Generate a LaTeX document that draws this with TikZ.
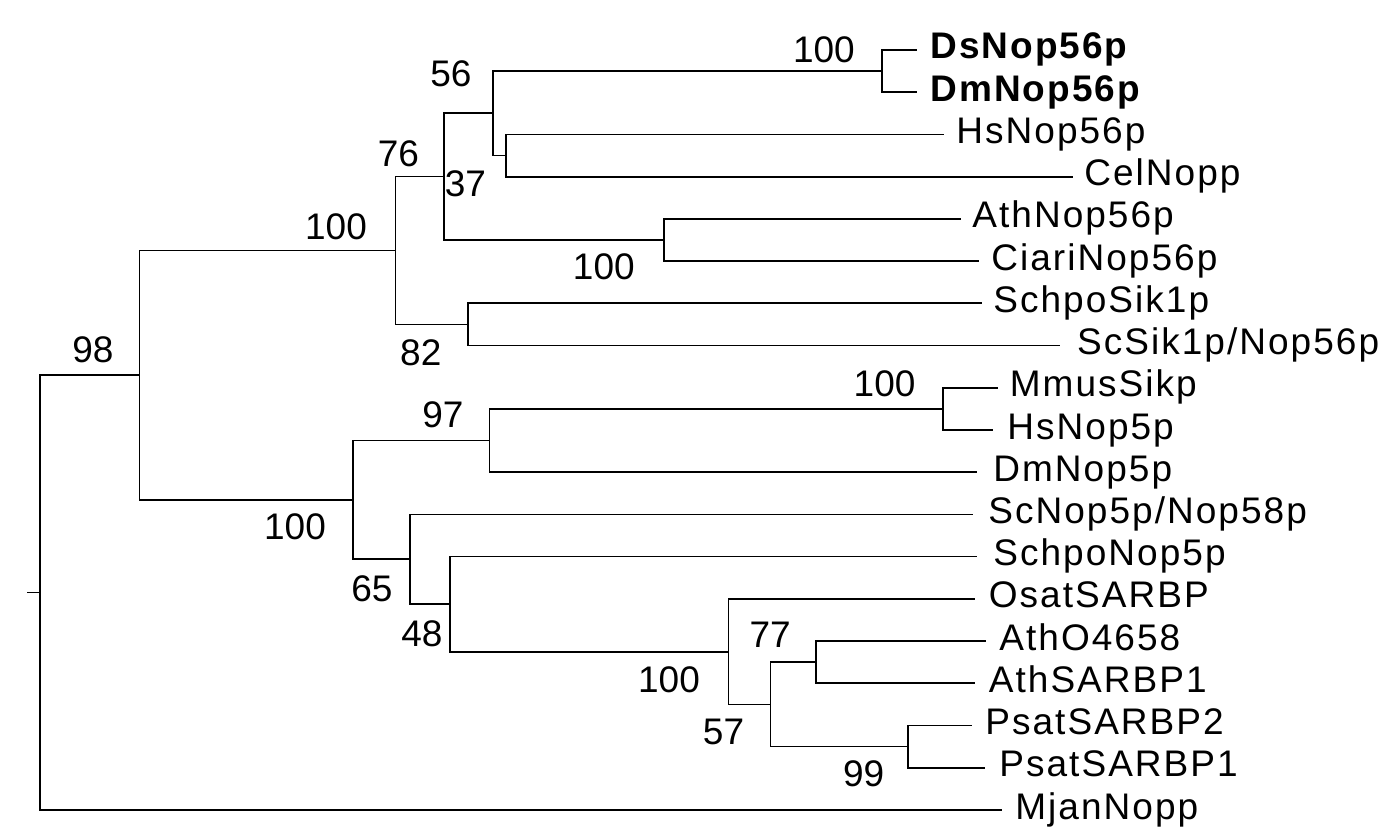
\documentclass[tikz,border=0pt]{standalone}
\usepackage{fontspec}
\setmainfont{Liberation Sans}
\newfontfamily\taxonfont{Liberation Sans}[LetterSpace=5.5]
\tikzset{
  branch/.style={line width=0.85pt},
  leaf/.style={anchor=base west, inner sep=0pt, font=\taxonfont\fontsize{18.5}{22}\selectfont},
  boot/.style={inner sep=0pt, font=\fontsize{18.5}{22}\selectfont},
}

\begin{document}
\begin{tikzpicture}[x=0.5pt, y=-0.5pt]
\useasboundingbox (0,0) rectangle (1382,840);

% inner nodes of the tree
\coordinate (R0) at (27,592.6);
\coordinate (N0) at (40,592.6);
\coordinate (N1) at (139.5,375.2);
\coordinate (N2) at (395.5,250.5);
\coordinate (N3) at (444.2,176.65);
\coordinate (N4) at (492.9,113.3);
\coordinate (N5) at (881.7,71.1);
\coordinate (N6) at (505.8,155.55);
\coordinate (N7) at (663.8,240);
\coordinate (N8) at (467.9,324.4);
\coordinate (N9) at (352.7,499.9);
\coordinate (N10) at (489.5,440.55);
\coordinate (N11) at (943.2,408.9);
\coordinate (N12) at (409.8,559.25);
\coordinate (N13) at (450,604.1);
\coordinate (N14) at (728.4,651.65);
\coordinate (N15) at (770.4,704.4);
\coordinate (N16) at (815.7,662.2);
\coordinate (N17) at (908.2,746.6);

% ends of the tips
\coordinate (L1) at (916.7,50);
\coordinate (L2) at (916.7,92.2);
\coordinate (L3) at (944,134.4);
\coordinate (L4) at (1072.5,176.7);
\coordinate (L5) at (960.5,218.9);
\coordinate (L6) at (979,261.1);
\coordinate (L7) at (981.5,303.3);
\coordinate (L8) at (1060,345.5);
\coordinate (L9) at (997.8,387.8);
\coordinate (L10) at (993,430);
\coordinate (L11) at (976.8,472.2);
\coordinate (L12) at (973,514.4);
\coordinate (L13) at (976.8,556.6);
\coordinate (L14) at (975.4,598.9);
\coordinate (L15) at (986,641.1);
\coordinate (L16) at (975.4,683.3);
\coordinate (L17) at (972,725.5);
\coordinate (L18) at (985.2,767.7);
\coordinate (L19) at (1002,810);

% tip names
\node[leaf, font=\taxonfont\bfseries\fontsize{18.5}{22}\selectfont] (T1) at (930,59) {DsNop56p};
\node[leaf, font=\taxonfont\bfseries\fontsize{18.5}{22}\selectfont] (T2) at (930,101.2) {DmNop56p};
\node[leaf] (T3) at (956,143.4) {HsNop56p};
\node[leaf] (T4) at (1084,185.7) {CelNopp};
\node[leaf] (T5) at (972,227.9) {AthNop56p};
\node[leaf] (T6) at (991,270.1) {CiariNop56p};
\node[leaf] (T7) at (993,312.3) {SchpoSik1p};
\node[leaf] (T8) at (1076.7,354.5) {ScSik1p/Nop56p};
\node[leaf] (T9) at (1009.5,396.8) {MmusSikp};
\node[leaf] (T10) at (1007,439) {HsNop5p};
\node[leaf] (T11) at (993,481.2) {DmNop5p};
\node[leaf] (T12) at (988,523.4) {ScNop5p/Nop58p};
\node[leaf] (T13) at (993,565.6) {SchpoNop5p};
\node[leaf] (T14) at (988.5,607.9) {OsatSARBP};
\node[leaf] (T15) at (999,650.1) {AthO4658};
\node[leaf] (T16) at (988.5,692.3) {AthSARBP1};
\node[leaf] (T17) at (985,734.5) {PsatSARBP2};
\node[leaf] (T18) at (999,776.7) {PsatSARBP1};
\node[leaf] (T19) at (1015,819) {MjanNopp};

% bootstrap values
\node[boot] (S1) at (93,350) {98};
\node[boot] (S2) at (336,226.7) {100};
\node[boot] (S3) at (398.4,153.3) {76};
\node[boot] (S4) at (465.4,183.3) {37};
\node[boot] (S5) at (450.9,74) {56};
\node[boot] (S6) at (823.9,49.3) {100};
\node[boot] (S7) at (603.8,266.7) {100};
\node[boot] (S8) at (420.8,352.3) {82};
\node[boot] (S9) at (884.6,383.3) {100};
\node[boot] (S10) at (443,414.5) {97};
\node[boot] (S11) at (295,526.7) {100};
\node[boot] (S12) at (372,588.3) {65};
\node[boot] (S13) at (422,633.3) {48};
\node[boot] (S14) at (669,680) {100};
\node[boot] (S15) at (770.2,635) {77};
\node[boot] (S16) at (723.5,731.7) {57};
\node[boot] (S17) at (863.6,773.3) {99};

\draw[branch] (N0) -- (R0) (N0) |- (N1) (N0) |- (L19);
\draw[branch] (N1) |- (N2) (N1) |- (N9);
\draw[branch] (N2) |- (N3) (N2) |- (N8) (N3) |- (N4) (N3) |- (N7);
\draw[branch] (N4) |- (N5) (N4) |- (N6) (N5) |- (L1) (N5) |- (L2);
\draw[branch] (N6) |- (L3) (N6) |- (L4) (N7) |- (L5) (N7) |- (L6);
\draw[branch] (N8) |- (L7) (N8) |- (L8);
\draw[branch] (N9) |- (N10) (N9) |- (N12) (N10) |- (N11) (N10) |- (L11);
\draw[branch] (N11) |- (L9) (N11) |- (L10);
\draw[branch] (N12) |- (L12) (N12) |- (N13) (N13) |- (L13) (N13) |- (N14);
\draw[branch] (N14) |- (L14) (N14) |- (N15) (N15) |- (N16) (N15) |- (N17);
\draw[branch] (N16) |- (L15) (N16) |- (L16) (N17) |- (L17) (N17) |- (L18);
\end{tikzpicture}
\end{document}
